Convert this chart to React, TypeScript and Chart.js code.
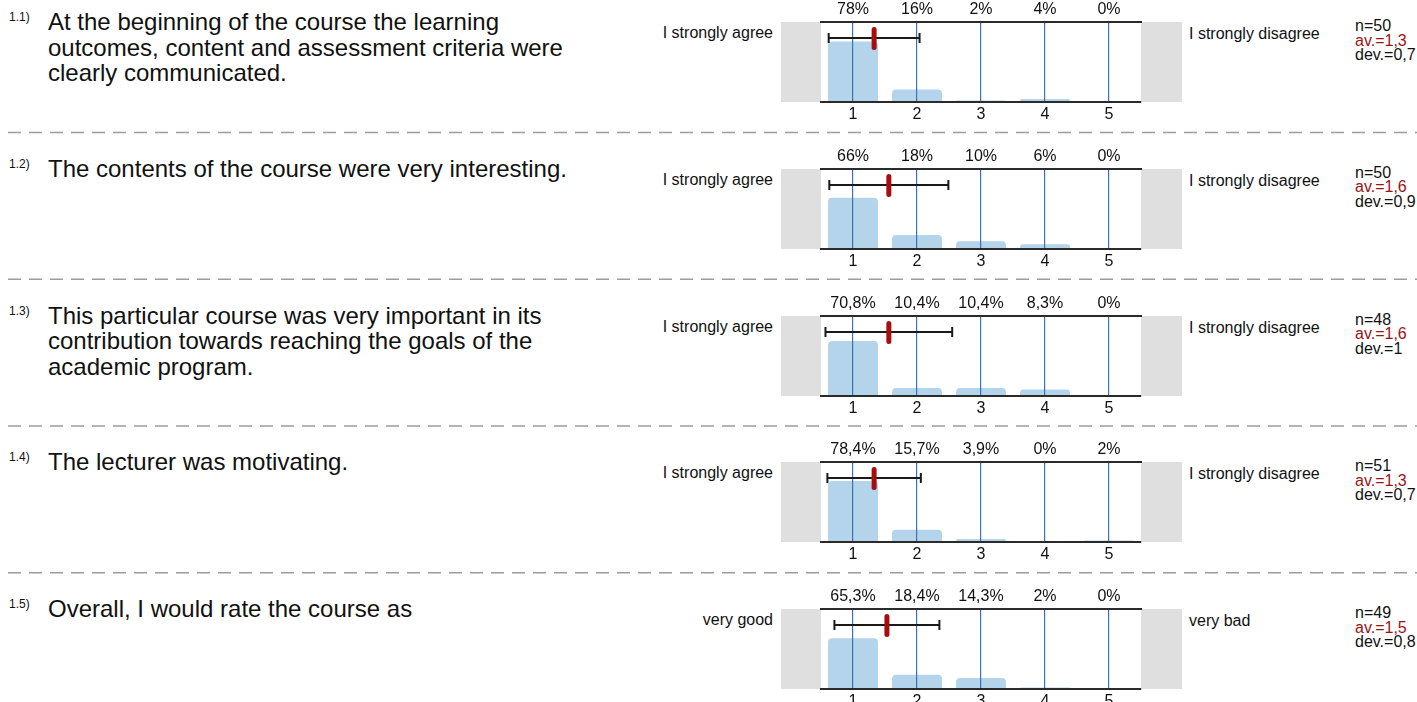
import React, { useEffect, useRef } from "react";
import { Chart, registerables } from "chart.js";

Chart.register(...registerables);

// ---------- data ----------
const scaleLabels = ["1", "2", "3", "4", "5"];
const questionNumbers = ["1.1)", "1.2)", "1.3)", "1.4)", "1.5)"];
const questionLines = [
  [
    "At the beginning of the course the learning",
    "outcomes, content and assessment criteria were",
    "clearly communicated.",
  ],
  ["The contents of the course were very interesting."],
  [
    "This particular course was very important in its",
    "contribution towards reaching the goals of the",
    "academic program.",
  ],
  ["The lecturer was motivating."],
  ["Overall, I would rate the course as"],
];
const leftLabels = [
  "I strongly agree",
  "I strongly agree",
  "I strongly agree",
  "I strongly agree",
  "very good",
];
const rightLabels = [
  "I strongly disagree",
  "I strongly disagree",
  "I strongly disagree",
  "I strongly disagree",
  "very bad",
];
const percentQ1 = [78, 16, 2, 4, 0];
const percentQ2 = [66, 18, 10, 6, 0];
const percentQ3 = [70.8, 10.4, 10.4, 8.3, 0];
const percentQ4 = [78.4, 15.7, 3.9, 0, 2];
const percentQ5 = [65.3, 18.4, 14.3, 2, 0];
const percentLabelsQ1 = ["78%", "16%", "2%", "4%", "0%"];
const percentLabelsQ2 = ["66%", "18%", "10%", "6%", "0%"];
const percentLabelsQ3 = ["70,8%", "10,4%", "10,4%", "8,3%", "0%"];
const percentLabelsQ4 = ["78,4%", "15,7%", "3,9%", "0%", "2%"];
const percentLabelsQ5 = ["65,3%", "18,4%", "14,3%", "2%", "0%"];
const counts = [50, 50, 48, 51, 49];
const averageLabels = ["1,3", "1,6", "1,6", "1,3", "1,5"];
const deviationLabels = ["0,7", "0,9", "1", "0,7", "0,8"];
const means = [1.33, 1.56, 1.56, 1.33, 1.53];
const deviations = [0.71, 0.93, 0.99, 0.73, 0.82];

const percentRows = [percentQ1, percentQ2, percentQ3, percentQ4, percentQ5];
const percentLabelRows = [
  percentLabelsQ1,
  percentLabelsQ2,
  percentLabelsQ3,
  percentLabelsQ4,
  percentLabelsQ5,
];

// ---------- style ----------
const FONT = "Arial, 'Liberation Sans', sans-serif";
const BAR = "#b3d4eb";
const BLUE = "#3a72b8";
const AXIS = "#2a2a2a";
const GREY = "#dfdfdf";
const RED = "#a80d0d";
const TEXT = "#111";

const ROW0 = 22;
const ROW_STEP = 146.75;
const CANVAS_LEFT = 781;
const CANVAS_W = 401;
const CANVAS_H = 124;

const panelPlugin = {
  id: "panel",
  beforeDraw(chart: any) {
    const { ctx, chartArea, width } = chart;
    ctx.save();
    ctx.fillStyle = GREY;
    ctx.fillRect(0, chartArea.top, chartArea.left, chartArea.bottom - chartArea.top);
    ctx.fillRect(chartArea.right, chartArea.top, width - chartArea.right, chartArea.bottom - chartArea.top);
    ctx.restore();
  },
  afterDraw(chart: any, _args: any, opts: any) {
    const { ctx, chartArea } = chart;
    const xs = chart.scales.x;
    const px = (v: number) => xs.getPixelForValue(v - 1);
    const m = opts.mean as number;
    const d = opts.dev as number;
    const y = chartArea.top + 16;
    const x1 = px(m - d);
    const x2 = px(m + d);
    ctx.save();
    ctx.strokeStyle = "#1a1a1a";
    ctx.lineWidth = 2;
    ctx.beginPath();
    ctx.moveTo(x1, y);
    ctx.lineTo(x2, y);
    ctx.moveTo(x1, y - 5);
    ctx.lineTo(x1, y + 5);
    ctx.moveTo(x2, y - 5);
    ctx.lineTo(x2, y + 5);
    ctx.stroke();
    ctx.strokeStyle = RED;
    ctx.lineWidth = 5;
    ctx.lineCap = "round";
    ctx.beginPath();
    ctx.moveTo(px(m), chartArea.top + 7.5);
    ctx.lineTo(px(m), chartArea.top + 25.5);
    ctx.stroke();
    ctx.restore();
  },
};

function RowChart({ idx }: { idx: number }) {
  const ref = useRef<HTMLCanvasElement>(null);
  useEffect(() => {
    const tickFont = { family: FONT, size: 16 };
    const chart = new Chart(ref.current as HTMLCanvasElement, {
      type: "bar",
      data: {
        labels: scaleLabels,
        datasets: [
          {
            data: percentRows[idx],
            backgroundColor: BAR,
            borderWidth: 0,
            borderRadius: 4,
            barPercentage: 0.78,
            categoryPercentage: 1,
          },
        ],
      },
      options: {
        animation: false,
        responsive: false,
        maintainAspectRatio: false,
        devicePixelRatio: 1,
        layout: { padding: { left: 40, right: 41, top: 0, bottom: 0 } },
        plugins: {
          legend: { display: false },
          tooltip: { enabled: false },
          // @ts-ignore
          panel: { mean: means[idx], dev: deviations[idx] },
        },
        scales: {
          x: {
            type: "category",
            position: "bottom",
            offset: true,
            grid: {
              display: true,
              offset: false,
              color: BLUE,
              lineWidth: 1.2,
              drawTicks: false,
              z: 1,
            },
            border: { display: true, color: AXIS, width: 2, z: 2 },
            ticks: { font: tickFont, color: TEXT, padding: 3, maxRotation: 0 },
            afterFit: (s: any) => {
              s.height = 22;
            },
          },
          x2: {
            type: "category",
            position: "top",
            labels: percentLabelRows[idx],
            offset: true,
            grid: { display: false, drawTicks: false },
            border: { display: true, color: AXIS, width: 2, z: 2 },
            ticks: { font: tickFont, color: TEXT, padding: 3, maxRotation: 0 },
            afterFit: (s: any) => {
              s.height = 22;
            },
          },
          y: { display: false, min: 0, max: 103 },
        },
      } as any,
      plugins: [panelPlugin],
    });
    return () => chart.destroy();
  }, [idx]);
  const top = ROW0 + idx * ROW_STEP;
  return (
    <canvas
      ref={ref}
      width={CANVAS_W}
      height={CANVAS_H}
      style={{
        position: "absolute",
        left: CANVAS_LEFT,
        top: top - 22,
        width: CANVAS_W,
        height: CANVAS_H,
      }}
    />
  );
}

function Row({ idx }: { idx: number }) {
  const T = ROW0 + idx * ROW_STEP;
  return (
    <>
      <div
        style={{
          position: "absolute",
          left: 9,
          top: T - 12,
          fontSize: 12,
          lineHeight: "14px",
          whiteSpace: "nowrap",
        }}
      >
        {questionNumbers[idx]}
      </div>
      <div
        style={{
          position: "absolute",
          left: 48,
          top: T - 13,
          fontSize: 24,
          lineHeight: "25.5px",
          whiteSpace: "nowrap",
        }}
      >
        {questionLines[idx].map((l, i) => (
          <div key={i}>{l}</div>
        ))}
      </div>
      <div
        style={{
          position: "absolute",
          left: 573,
          width: 200,
          top: T + 2,
          fontSize: 16,
          lineHeight: "18px",
          textAlign: "right",
          whiteSpace: "nowrap",
        }}
      >
        {leftLabels[idx]}
      </div>
      <RowChart idx={idx} />
      <div
        style={{
          position: "absolute",
          left: 1189,
          top: T + 3,
          fontSize: 16,
          lineHeight: "18px",
          whiteSpace: "nowrap",
        }}
      >
        {rightLabels[idx]}
      </div>
      <div
        style={{
          position: "absolute",
          left: 1355,
          top: T - 3,
          fontSize: 16,
          lineHeight: "14.5px",
          whiteSpace: "nowrap",
        }}
      >
        <div>n={counts[idx]}</div>
        <div style={{ color: "#9b1414" }}>av.={averageLabels[idx]}</div>
        <div>dev.={deviationLabels[idx]}</div>
      </div>
    </>
  );
}

export default function App() {
  const rows = [0, 1, 2, 3, 4];
  return (
    <div
      style={{
        position: "absolute",
        left: 0,
        top: 0,
        width: 1417,
        height: 702,
        overflow: "hidden",
        background: "#fff",
        fontFamily: FONT,
        color: TEXT,
      }}
    >
      <svg
        width={1417}
        height={702}
        style={{ position: "absolute", left: 0, top: 0 }}
      >
        {rows.slice(0, 4).map((i) => {
          const y = ROW0 + i * ROW_STEP + 110.5;
          return (
            <line
              key={i}
              x1={8}
              x2={1417}
              y1={y}
              y2={y}
              stroke="#9c9c9c"
              strokeWidth={1.5}
              strokeDasharray="13 8"
            />
          );
        })}
      </svg>
      {rows.map((i) => (
        <Row key={i} idx={i} />
      ))}
    </div>
  );
}
